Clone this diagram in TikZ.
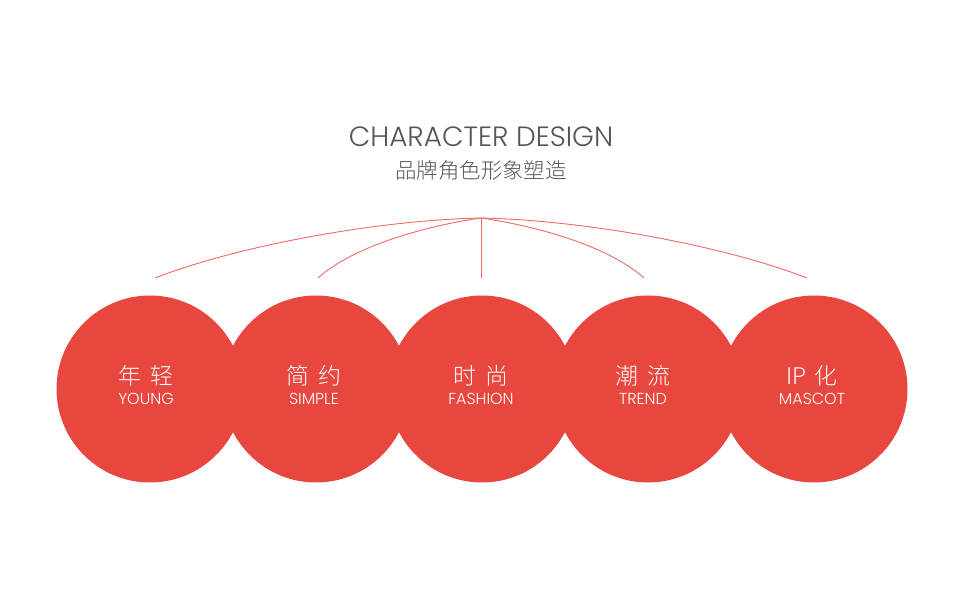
\documentclass[tikz,border=0pt]{standalone}
\usepackage{fontspec}
\newfontfamily\cjk{Noto Sans CJK SC Light}
\newfontfamily\latin{Poppins Light}
\usepackage{xcolor}
\usetikzlibrary{positioning}

\definecolor{brandred}{HTML}{E8473F}
\definecolor{linkred}{HTML}{EE6A63}
\definecolor{titlegray}{HTML}{555555}

\begin{document}
\begin{tikzpicture}[
    x=1bp, y=-1bp,
    % filled red discs, one per keyword
    bubble/.style={circle, fill=brandred, minimum size=187bp, inner sep=0pt},
    cnlabel/.style={font=\cjk\fontsize{23}{23}\selectfont, text=white, inner sep=0pt},
    enlabel/.style={font=\latin\fontsize{16}{16}\selectfont, text=white, inner sep=0pt},
    % thin red branches from the title
    link/.style={draw=linkred, line width=0.9bp}
]
\useasboundingbox (0,0) rectangle (964,600);

\node[font=\latin\fontsize{28}{28}\selectfont, text=titlegray, inner sep=0pt] (title) at (481,137) {CHARACTER DESIGN};
\node[font=\cjk\fontsize{21.5}{21.5}\selectfont, text=titlegray, inner sep=0pt] (subtitle) at (481,170) {品牌角色形象塑造};

\node[bubble] (young)   at (150,389) {};
\node[bubble] (simple)  at (316,389) {};
\node[bubble] (fashion) at (482,389) {};
\node[bubble] (trend)   at (648,389) {};
\node[bubble] (mascot)  at (814,389) {};

\node[cnlabel] (youngcn)   at (146,376) {年\hspace{10bp}轻};
\node[cnlabel] (simplecn)  at (314,376) {简\hspace{10bp}约};
\node[cnlabel] (fashioncn) at (481,376) {时\hspace{10bp}尚};
\node[cnlabel] (trendcn)   at (643,376) {潮\hspace{10bp}流};
\node[cnlabel] (mascotcn)  at (812,376) {IP\hspace{8bp}化};

\node[enlabel] (youngen)   at (146,398.5) {YOUNG};
\node[enlabel] (simpleen)  at (314,398.5) {SIMPLE};
\node[enlabel] (fashionen) at (481,398.5) {FASHION};
\node[enlabel] (trenden)   at (643,398.5) {TREND};
\node[enlabel] (mascoten)  at (812,398.5) {MASCOT};

\coordinate (apex) at (481,218);
\coordinate (tipyoung)   at (155,278);
\coordinate (tipsimple)  at (318,278);
\coordinate (tipfashion) at (481,278);
\coordinate (tiptrend)   at (644,278);
\coordinate (tipmascot)  at (807,278);

\draw[link] (apex) .. controls (380,220) and (240,245) .. (tipyoung);
\draw[link] (apex) .. controls (432,225) and (356,244) .. (tipsimple);
\draw[link] (apex) -- (tipfashion);
\draw[link] (apex) .. controls (530,225) and (606,244) .. (tiptrend);
\draw[link] (apex) .. controls (582,220) and (722,245) .. (tipmascot);

\end{tikzpicture}
\end{document}
